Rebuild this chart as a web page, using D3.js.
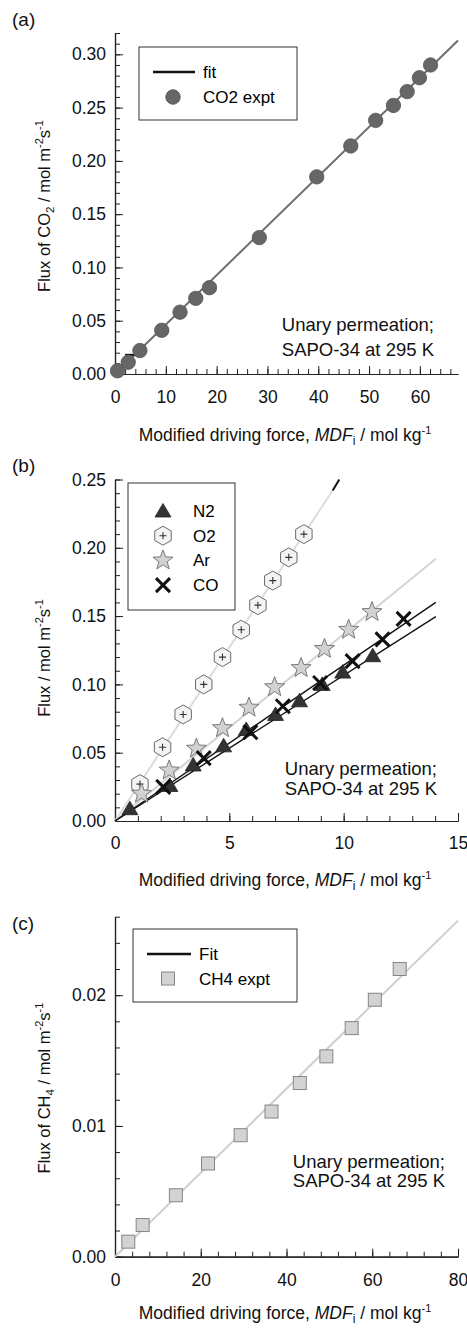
<!DOCTYPE html>
<html>
<head>
<meta charset="utf-8">
<script src="https://cdn.jsdelivr.net/npm/d3@7"></script>
<style>
  body { margin: 0; background: #fff; }
  svg { font-family: 'Liberation Sans', Arial, sans-serif; }
</style>
</head>
<body>
<div id="chart"></div>
<script>
// ---- data ----
// (a) CO2
const co2Mdf = [0.5, 2.6, 4.9, 9.2, 12.8, 15.9, 18.6, 28.4, 39.7, 46.4, 51.3, 54.8, 57.5, 59.9, 62.1];
const co2Flux = [0.003, 0.011, 0.022, 0.041, 0.058, 0.071, 0.081, 0.128, 0.185, 0.214, 0.238, 0.252, 0.265, 0.278, 0.290];
const co2FitX = [0, 67.5];
const co2FitY = [0, 0.313];
const co2StubX = [2, 5.5];
const co2StubY = [0.018, 0.018];

// (b) N2, O2, Ar, CO
const n2Mdf = [0.65, 2.40, 3.42, 4.75, 5.74, 7.02, 8.07, 9.06, 9.96, 11.27];
const n2Flux = [0.009, 0.026, 0.041, 0.055, 0.067, 0.078, 0.088, 0.100, 0.109, 0.121];
const o2Mdf = [1.09, 2.08, 2.98, 3.88, 4.70, 5.52, 6.25, 6.90, 7.60, 8.26];
const o2Flux = [0.027, 0.054, 0.078, 0.100, 0.120, 0.140, 0.158, 0.176, 0.193, 0.210];
const arMdf = [1.16, 2.37, 3.56, 4.70, 5.86, 6.98, 8.14, 9.16, 10.22, 11.24];
const arFlux = [0.020, 0.037, 0.053, 0.068, 0.083, 0.098, 0.112, 0.126, 0.140, 0.153];
const coMdf = [2.11, 3.88, 5.92, 7.34, 8.97, 10.39, 11.70, 12.62];
const coFlux = [0.025, 0.046, 0.065, 0.084, 0.101, 0.117, 0.133, 0.148];
const n2FitX = [0, 14.03], n2FitY = [0, 0.1496];
const coFitX = [0, 14.03], coFitY = [0, 0.160];
const arFitX = [0, 14.03], arFitY = [0, 0.192];
const o2FitX = [0, 9.52], o2FitY = [0, 0.242];
const o2TipX = [9.52, 9.81], o2TipY = [0.242, 0.250];

// (c) CH4
const ch4Mdf = [3.1, 6.45, 14.2, 21.7, 29.3, 36.5, 43.1, 49.3, 55.2, 60.6, 66.4];
const ch4Flux = [0.00115, 0.00242, 0.0047, 0.00713, 0.00929, 0.0111, 0.01328, 0.01532, 0.01748, 0.01965, 0.0220];
const ch4FitX = [0, 80];
const ch4FitY = [0, 0.0257];

// ticks
const aXMajor = [0, 10, 20, 30, 40, 50, 60];
const aYMajor = [0, 0.05, 0.10, 0.15, 0.20, 0.25, 0.30];
const bXMajor = [0, 5, 10, 15];
const bYMajor = [0, 0.05, 0.10, 0.15, 0.20, 0.25];
const cXMajor = [0, 20, 40, 60, 80];
const cYMajor = [0, 0.01, 0.02];

const W = 467, H = 1328;
const svg = d3.select('#chart').append('svg').attr('width', W).attr('height', H);

const zip = (xs, ys) => xs.map((x, i) => ({ x, y: ys[i] }));
const range = (a, b, s) => d3.range(a, b + s / 2, s).map(v => +v.toFixed(6));

// panel frame with inward ticks
function panel(opts) {
  const x = d3.scaleLinear().domain(opts.xDomain).range([115, 458]);
  const y = d3.scaleLinear().domain(opts.yDomain).range(opts.yRange);
  const g = svg.append('g');

  // minor ticks
  g.append('g').attr('transform', `translate(0,${y(0)})`)
    .call(d3.axisBottom(x).tickValues(opts.xMinor).tickSize(-5).tickSizeOuter(0).tickFormat(''));
  g.append('g').attr('transform', `translate(115,0)`)
    .call(d3.axisLeft(y).tickValues(opts.yMinor).tickSize(-5).tickSizeOuter(0).tickFormat(''));
  // major ticks
  g.append('g').attr('transform', `translate(0,${y(0)})`)
    .call(d3.axisBottom(x).tickValues(opts.xMajor).tickSize(-8).tickSizeOuter(0)
      .tickPadding(opts.xPad).tickFormat(d3.format('d')));
  g.append('g').attr('transform', `translate(115,0)`)
    .call(d3.axisLeft(y).tickValues(opts.yMajor).tickSize(-8).tickSizeOuter(0)
      .tickPadding(9).tickFormat(d3.format(opts.yFmt)));

  g.selectAll('.domain').attr('stroke', '#222').attr('stroke-width', 1.2);
  g.selectAll('.tick line').attr('stroke', '#222').attr('stroke-width', 1);
  g.selectAll('.tick text').attr('font-size', 17.5).attr('fill', '#111')
    .attr('font-family', "'Liberation Sans', Arial, sans-serif");

  // x label
  const xl = svg.append('text').attr('x', 285).attr('y', opts.xLabelY)
    .attr('text-anchor', 'middle').attr('font-size', 17.5).attr('fill', '#111');
  xl.append('tspan').text('Modified driving force, ');
  xl.append('tspan').attr('font-style', 'italic').text('MDF');
  xl.append('tspan').attr('font-size', 12).attr('dy', 4).text('i');
  xl.append('tspan').attr('dy', -4).text(' / mol kg');
  xl.append('tspan').attr('font-size', 11).attr('dy', -7).text('-1');

  // y label
  const yl = svg.append('text')
    .attr('transform', `translate(50,${opts.yLabelY}) rotate(-90)`)
    .attr('text-anchor', 'middle').attr('font-size', 16.5).attr('fill', '#111');
  opts.yLabel(yl);

  // panel tag
  svg.append('text').attr('x', 12).attr('y', opts.tagY).attr('font-size', 19)
    .attr('fill', '#111').text(opts.tag);

  // annotation
  const ann = svg.append('text').attr('text-anchor', 'end').attr('font-size', 18.5).attr('fill', '#111');
  ann.append('tspan').attr('x', opts.annX).attr('y', opts.annY[0]).text('Unary permeation;');
  ann.append('tspan').attr('x', opts.annX).attr('y', opts.annY[1]).text('SAPO-34 at 295 K');

  return { x, y, g };
}

function fluxLabel(t, species, sub) {
  t.append('tspan').text('Flux of ' + species);
  t.append('tspan').attr('font-size', 11.5).attr('dy', 4).text(sub);
  t.append('tspan').attr('dy', -4).text(' / mol m');
  t.append('tspan').attr('font-size', 11).attr('dy', -7).text('-2');
  t.append('tspan').attr('dy', 7).text('s');
  t.append('tspan').attr('font-size', 11).attr('dy', -7).text('-1');
}

function fitLine(p, xs, ys, color, width) {
  const line = d3.line().x(d => p.x(d.x)).y(d => p.y(d.y));
  svg.append('path').datum(zip(xs, ys)).attr('d', line)
    .attr('fill', 'none').attr('stroke', color).attr('stroke-width', width);
}

// symbols
const triPath = 'M0,-7.5L8,6L-8,6Z';
const hexPath = d3.range(6).map(i => {
  const a = Math.PI / 2 + i * Math.PI / 3;
  return (i ? 'L' : 'M') + (9.5 * Math.cos(a)).toFixed(2) + ',' + (-9.5 * Math.sin(a)).toFixed(2);
}).join('') + 'Z';
const starPath = d3.range(10).map(i => {
  const r = i % 2 ? 4.4 : 10.5;
  const a = -Math.PI / 2 + i * Math.PI / 5;
  return (i ? 'L' : 'M') + (r * Math.cos(a)).toFixed(2) + ',' + (r * Math.sin(a)).toFixed(2);
}).join('') + 'Z';

function drawTri(sel) {
  sel.append('path').attr('d', triPath).attr('fill', '#333').attr('stroke', '#222').attr('stroke-width', 0.8);
}
function drawHex(sel) {
  sel.append('path').attr('d', hexPath).attr('fill', '#f4f4f4').attr('stroke', '#6a6a6a').attr('stroke-width', 1);
  sel.append('path').attr('d', 'M-3.5,0H3.5M0,-3.5V3.5').attr('stroke', '#333').attr('stroke-width', 1.1);
}
function drawStar(sel) {
  sel.append('path').attr('d', starPath).attr('fill', '#d2d2d2').attr('stroke', '#7a7a7a').attr('stroke-width', 1);
}
function drawX(sel) {
  sel.append('path').attr('d', 'M-7,-7L7,7M-7,7L7,-7').attr('stroke', '#111').attr('stroke-width', 3);
}

function markers(p, xs, ys, draw) {
  svg.append('g').selectAll('g').data(zip(xs, ys)).enter().append('g')
    .attr('transform', d => `translate(${p.x(d.x)},${p.y(d.y)})`)
    .each(function () { draw(d3.select(this)); });
}

// ---------- (a) ----------
const pa = panel({
  xDomain: [0, 67.5], yDomain: [0, 0.32], yRange: [374, 33],
  xMajor: aXMajor, xMinor: range(0, 66, 2), yMajor: aYMajor, yMinor: range(0, 0.32, 0.01),
  yFmt: '.2f', xPad: 17, xLabelY: 441, yLabelY: 206, tag: '(a)', tagY: 26,
  annX: 434, annY: [331, 356],
  yLabel: t => fluxLabel(t, 'CO', '2')
});
fitLine(pa, co2FitX, co2FitY, '#6e6e6e', 2);
fitLine(pa, co2StubX, co2StubY, '#111', 2);
svg.append('g').selectAll('circle').data(zip(co2Mdf, co2Flux)).enter().append('circle')
  .attr('cx', d => pa.x(d.x)).attr('cy', d => pa.y(d.y)).attr('r', 7.2)
  .attr('fill', '#666').attr('stroke', '#555').attr('stroke-width', 0.8);

// legend (a)
svg.append('rect').attr('x', 139).attr('y', 47).attr('width', 158).attr('height', 73)
  .attr('fill', '#fff').attr('stroke', '#333').attr('stroke-width', 1);
svg.append('line').attr('x1', 153).attr('x2', 195).attr('y1', 72).attr('y2', 72)
  .attr('stroke', '#111').attr('stroke-width', 2.5);
svg.append('text').attr('x', 203).attr('y', 78).attr('font-size', 17).text('fit');
svg.append('circle').attr('cx', 173).attr('cy', 97).attr('r', 7.2).attr('fill', '#666').attr('stroke', '#555');
svg.append('text').attr('x', 203).attr('y', 103).attr('font-size', 17).text('CO2 expt');

// ---------- (b) ----------
const pb = panel({
  xDomain: [0, 15], yDomain: [0, 0.25], yRange: [821, 479.5],
  xMajor: bXMajor, xMinor: range(0, 15, 1), yMajor: bYMajor, yMinor: range(0, 0.25, 0.01),
  yFmt: '.2f', xPad: 16, xLabelY: 886, yLabelY: 658, tag: '(b)', tagY: 472,
  annX: 437, annY: [775, 795],
  yLabel: t => {
    t.append('tspan').text('Flux / mol m');
    t.append('tspan').attr('font-size', 11).attr('dy', -7).text('-2');
    t.append('tspan').attr('dy', 7).text('s');
    t.append('tspan').attr('font-size', 11).attr('dy', -7).text('-1');
  }
});
fitLine(pb, o2FitX, o2FitY, '#dcdcdc', 2);
fitLine(pb, o2TipX, o2TipY, '#111', 2);
fitLine(pb, arFitX, arFitY, '#d4d4d4', 2);
fitLine(pb, coFitX, coFitY, '#111', 1.4);
fitLine(pb, n2FitX, n2FitY, '#111', 1.4);
markers(pb, o2Mdf, o2Flux, drawHex);
markers(pb, arMdf, arFlux, drawStar);
markers(pb, n2Mdf, n2Flux, drawTri);
markers(pb, coMdf, coFlux, drawX);

// legend (b)
svg.append('rect').attr('x', 128).attr('y', 483).attr('width', 107).attr('height', 127)
  .attr('fill', '#fff').attr('stroke', '#333').attr('stroke-width', 1);
const legB = [['N2', drawTri], ['O2', drawHex], ['Ar', drawStar], ['CO', drawX]];
legB.forEach(([name, draw], i) => {
  const yy = 511 + i * 24.7;
  draw(svg.append('g').attr('transform', `translate(163,${yy})`));
  svg.append('text').attr('x', 193).attr('y', yy + 6).attr('font-size', 17).text(name);
});

// ---------- (c) ----------
const pc = panel({
  xDomain: [0, 80], yDomain: [0, 0.026], yRange: [1256.7, 916.7],
  xMajor: cXMajor, xMinor: range(0, 80, 4), yMajor: cYMajor, yMinor: range(0, 0.026, 0.002),
  yFmt: '.2f', xPad: 17, xLabelY: 1319, yLabelY: 1088, tag: '(c)', tagY: 930,
  annX: 445, annY: [1168, 1187],
  yLabel: t => fluxLabel(t, 'CH', '4')
});
fitLine(pc, ch4FitX, ch4FitY, '#cfcfcf', 2);
svg.append('g').selectAll('rect').data(zip(ch4Mdf, ch4Flux)).enter().append('rect')
  .attr('x', d => pc.x(d.x) - 6.5).attr('y', d => pc.y(d.y) - 6.5)
  .attr('width', 13).attr('height', 13)
  .attr('fill', '#d3d3d3').attr('stroke', '#858585').attr('stroke-width', 1);

// legend (c)
svg.append('rect').attr('x', 133).attr('y', 929).attr('width', 164).attr('height', 73)
  .attr('fill', '#fff').attr('stroke', '#333').attr('stroke-width', 1);
svg.append('line').attr('x1', 147).attr('x2', 191).attr('y1', 954).attr('y2', 954)
  .attr('stroke', '#111').attr('stroke-width', 2.5);
svg.append('text').attr('x', 199).attr('y', 960).attr('font-size', 17).text('Fit');
svg.append('rect').attr('x', 161.5).attr('y', 972).attr('width', 13).attr('height', 13)
  .attr('fill', '#d3d3d3').attr('stroke', '#858585');
svg.append('text').attr('x', 199).attr('y', 985).attr('font-size', 17).text('CH4 expt');
</script>
</body>
</html>
